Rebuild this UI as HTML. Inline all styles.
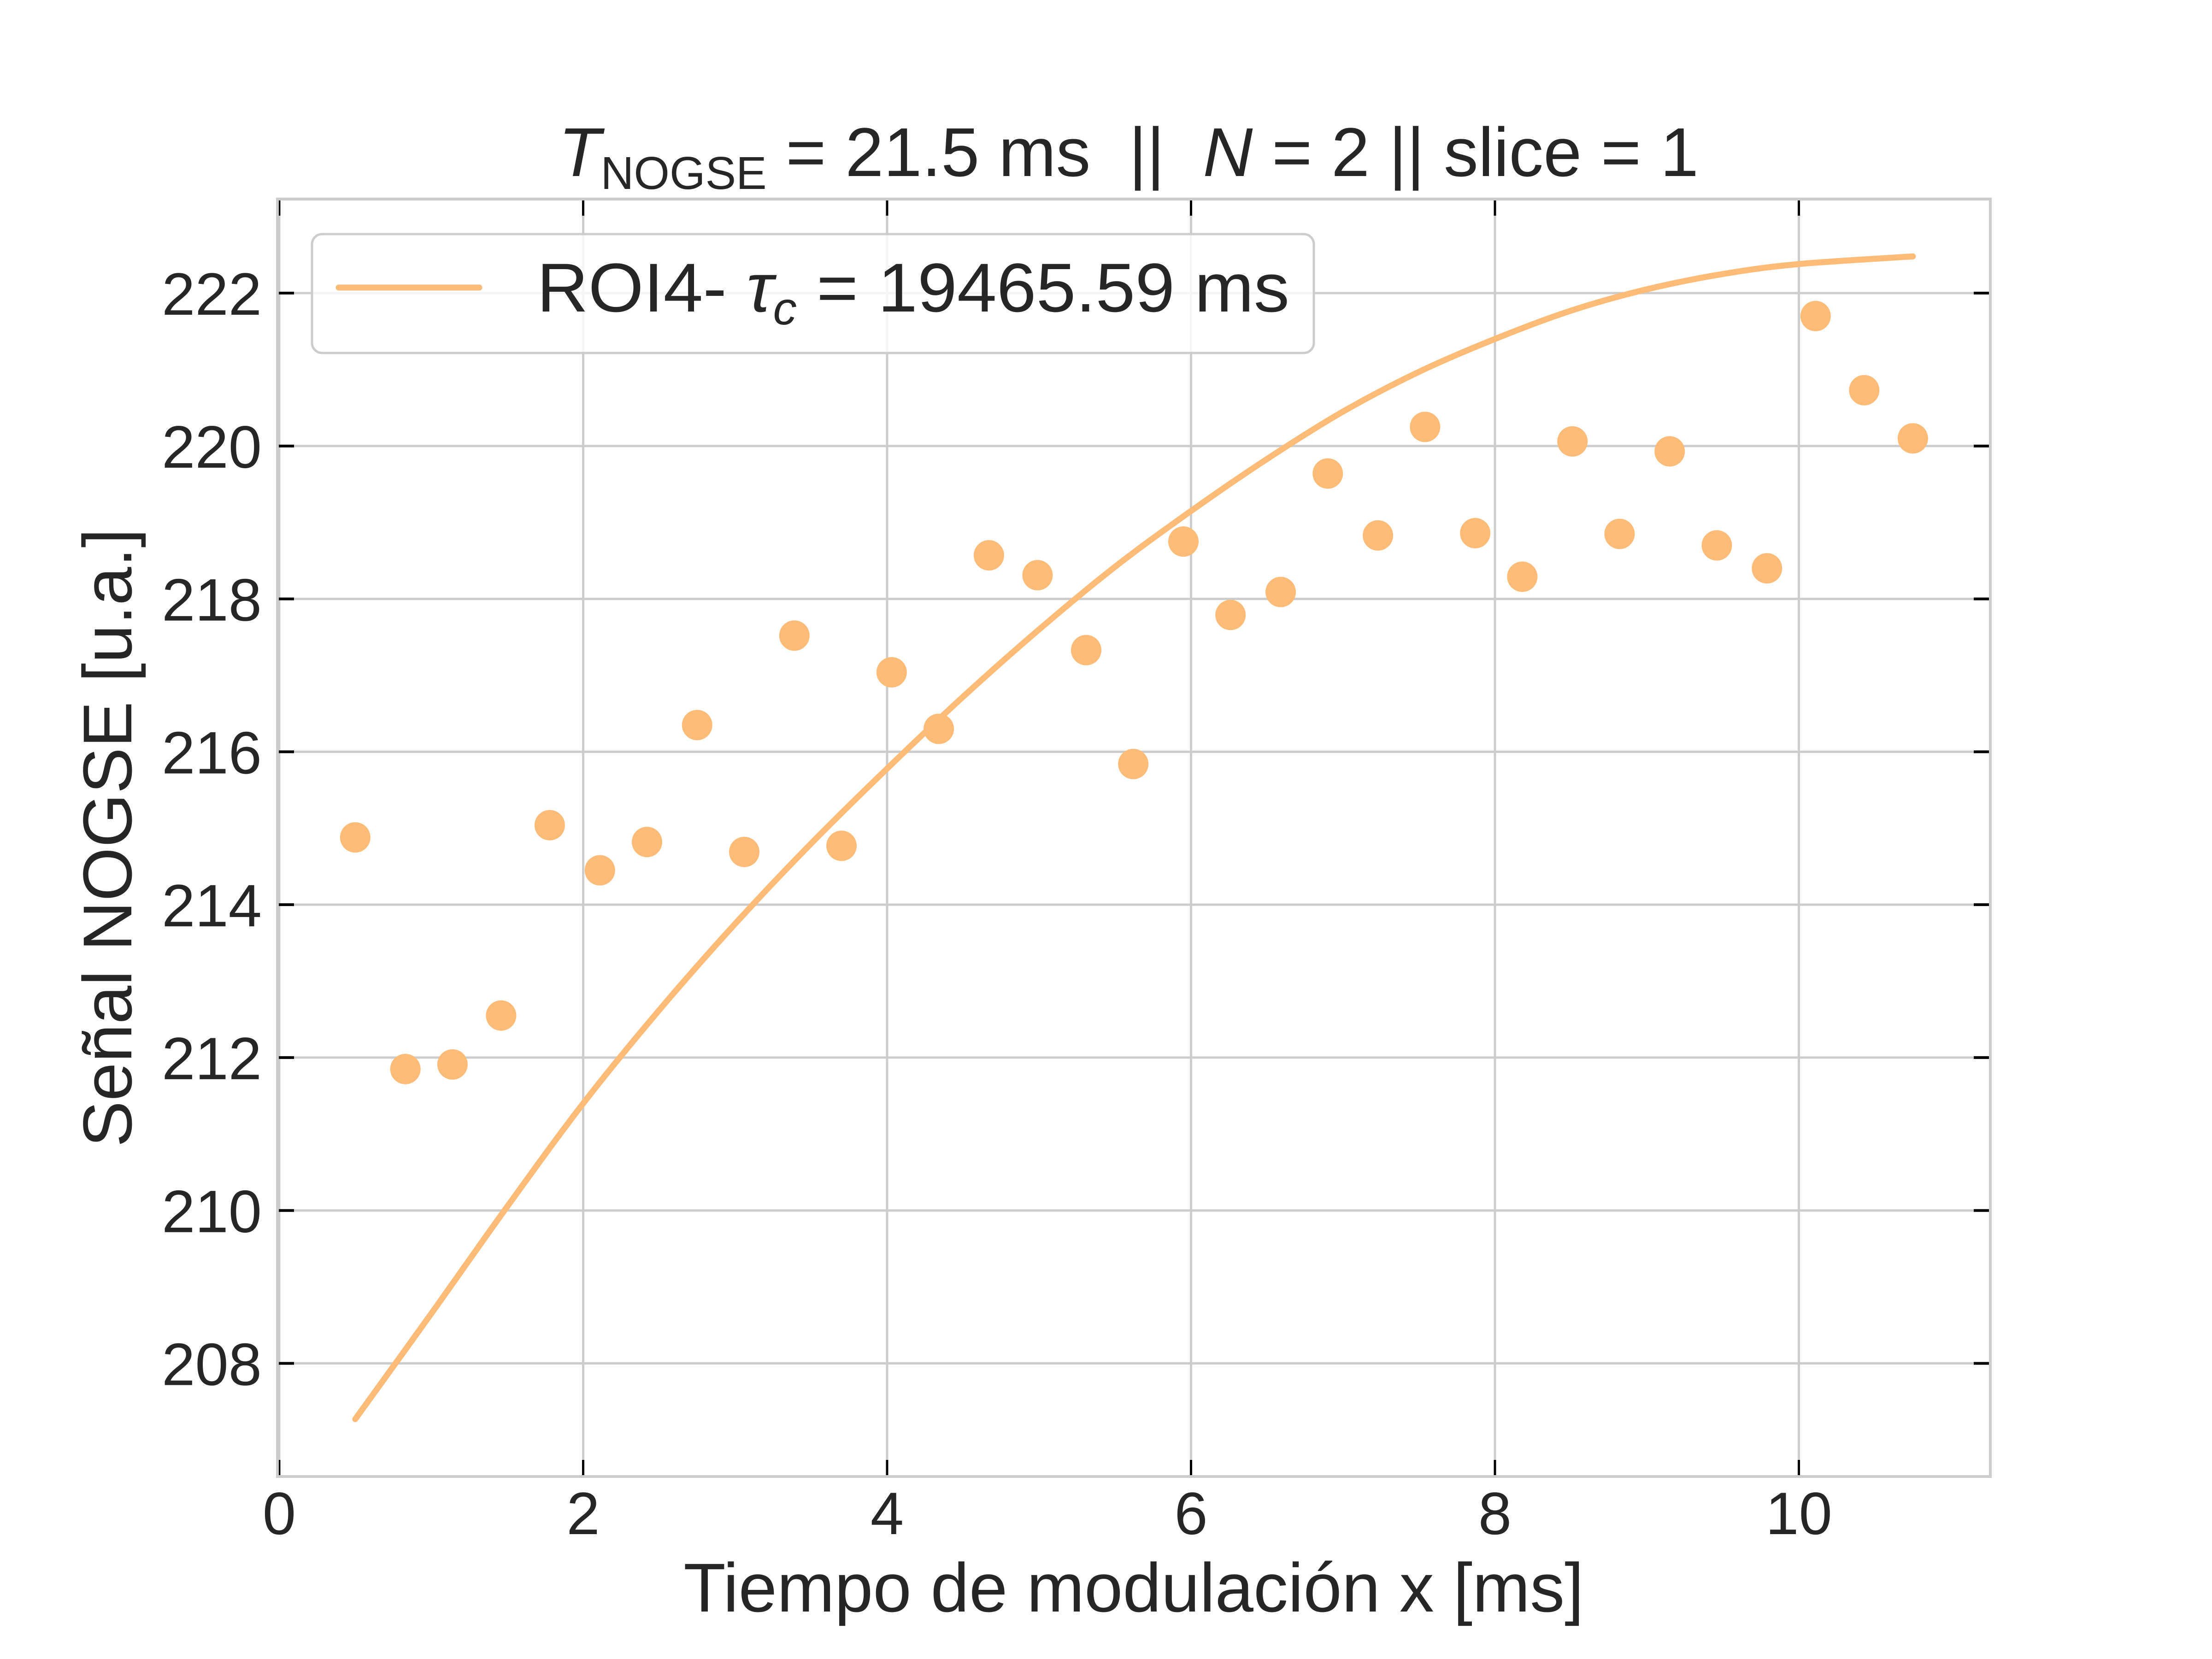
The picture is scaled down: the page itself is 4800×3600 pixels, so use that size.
<!DOCTYPE html>
<html><head><meta charset="utf-8"><style>
html,body{margin:0;padding:0;background:#fff;}
svg{display:block;font-family:"Liberation Sans","DejaVu Sans",sans-serif;}
</style></head><body>
<svg id="chart" width="4800" height="3600" viewBox="0 0 4800 3600" xmlns="http://www.w3.org/2000/svg">
<rect x="0" y="0" width="4800" height="3600" fill="#fff"/>
<g id="grid"></g>
<g id="series"></g>
<g id="axes"></g>
<text x="1212" y="382" font-size="150" fill="#262626" textLength="2474" lengthAdjust="spacingAndGlyphs"><tspan font-style="italic">T</tspan><tspan font-size="100" dy="28">NOGSE</tspan><tspan dy="-28"> = 21.5 ms&#160;&#160;||&#160;&#160;</tspan><tspan font-style="italic">N</tspan><tspan> = 2 || slice = 1</tspan></text>
<text x="2460" y="3497" font-size="150" fill="#262626" text-anchor="middle">Tiempo de modulación x [ms]</text>
<text transform="translate(285,1818) rotate(-90)" font-size="150" fill="#262626" text-anchor="middle">Señal NOGSE [u.a.]</text>
<g>
<rect x="677" y="508" width="2174" height="258" rx="22" fill="#fff" fill-opacity="0.8" stroke="#cccccc" stroke-width="5"/>
<line x1="735" y1="624" x2="1040" y2="624" stroke="#fdbb78" stroke-width="13" stroke-linecap="round"/>
<text x="1165" y="676" font-size="150" fill="#262626" textLength="1633" lengthAdjust="spacingAndGlyphs">ROI4- <tspan font-style="italic">τ</tspan><tspan font-style="italic" font-size="100" dy="28">c</tspan><tspan dy="-28"> = 19465.59 ms</tspan></text>
</g>
</svg>
<script>
const xTicks = [0, 2, 4, 6, 8, 10];
const yTicks = [208, 210, 212, 214, 216, 218, 220, 222];
const pointX = [0.50,0.83,1.14,1.46,1.78,2.11,2.42,2.75,3.06,3.39,3.70,4.03,4.34,4.67,4.99,5.31,5.62,5.95,6.26,6.59,6.90,7.23,7.54,7.87,8.18,8.51,8.82,9.15,9.46,9.79,10.11,10.43,10.75];
const pointY = [214.88,211.85,211.91,212.55,215.04,214.45,214.82,216.35,214.69,217.52,214.77,217.04,216.30,218.57,218.31,217.33,215.84,218.75,217.79,218.09,219.64,218.83,220.25,218.86,218.29,220.06,218.85,219.93,218.70,218.40,221.70,220.73,220.10];
const fitX = [0.5,1,1.5,2,2.5,3,3.5,4,4.5,5,5.5,6,6.5,7,7.5,8,8.5,9,9.5,10,10.75];
const fitY = [207.27,208.65,210.05,211.40,212.62,213.75,214.80,215.78,216.72,217.60,218.42,219.15,219.83,220.45,220.97,221.40,221.77,222.05,222.25,222.38,222.48];

const L=602,R=4319,T=432,B=3204;
const xMin=-0.012,xMax=11.26,yMin=206.52,yMax=223.23;
const sx=v=>L+(v-xMin)/(xMax-xMin)*(R-L);
const sy=v=>B-(v-yMin)/(yMax-yMin)*(B-T);
const NS="http://www.w3.org/2000/svg";
function mk(tag,attrs,parent){const e=document.createElementNS(NS,tag);for(const k in attrs)e.setAttribute(k,attrs[k]);parent.appendChild(e);return e;}
const grid=document.getElementById('grid'),series=document.getElementById('series'),axes=document.getElementById('axes');

xTicks.forEach(t=>{
  const x=sx(t);
  const g=mk('line',{x1:x,x2:x,y1:T,y2:B,stroke:'#cccccc','stroke-width':5},grid);
  
  
  const t1=mk('line',{x1:x,x2:x,y1:B,y2:B-36,stroke:'#000','stroke-width':5},axes);
  
  
  const t2=mk('line',{x1:x,x2:x,y1:T,y2:T+36,stroke:'#000','stroke-width':5},axes);
  
  
  const lb=mk('text',{x:x,y:3329,'font-size':130,fill:'#262626','text-anchor':'middle'},axes);
  lb.textContent=String(t);
  
  
});
yTicks.forEach(t=>{
  const y=sy(t);
  const g=mk('line',{x1:L,x2:R,y1:y,y2:y,stroke:'#cccccc','stroke-width':5},grid);
  
  
  const t1=mk('line',{x1:L,x2:L+36,y1:y,y2:y,stroke:'#000','stroke-width':6},axes);
  
  
  const t2=mk('line',{x1:R,x2:R-36,y1:y,y2:y,stroke:'#000','stroke-width':6},axes);
  
  
  const lb=mk('text',{x:568,y:y+47,'font-size':130,fill:'#262626','text-anchor':'end'},axes);
  lb.textContent=String(t);
  
  
});
const frame=mk('rect',{x:L,y:T,width:R-L,height:B-T,fill:'none',stroke:'#cccccc','stroke-width':6},axes);



pointX.forEach((v,i)=>{
  const c=mk('circle',{cx:sx(v),cy:sy(pointY[i]),r:33,fill:'#fdbb78'},series);
  
  
});
const pts=fitX.map((v,i)=>[sx(v),sy(fitY[i])]);
let d='M'+pts[0][0]+','+pts[0][1];
for(let i=0;i<pts.length-1;i++){
  const p0=pts[Math.max(0,i-1)],p1=pts[i],p2=pts[i+1],p3=pts[Math.min(pts.length-1,i+2)];
  const c1=[p1[0]+(p2[0]-p0[0])/6,p1[1]+(p2[1]-p0[1])/6];
  const c2=[p2[0]-(p3[0]-p1[0])/6,p2[1]-(p3[1]-p1[1])/6];
  d+=' C'+c1+' '+c2+' '+p2;
}
const fit=mk('path',{d:d,fill:'none',stroke:'#fdbb78','stroke-width':13,'stroke-linecap':'round'},series);


</script>
</body></html>
